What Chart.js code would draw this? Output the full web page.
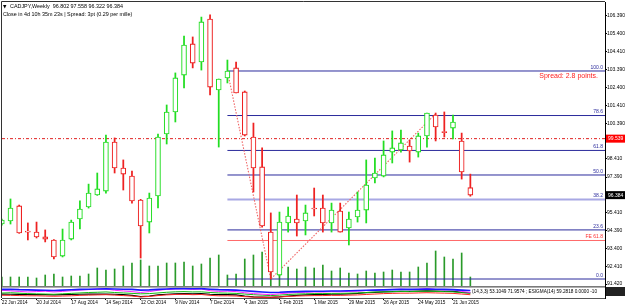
<!DOCTYPE html>
<html><head><meta charset="utf-8">
<script src="https://cdn.jsdelivr.net/npm/chart.js@4/dist/chart.umd.min.js"></script>
<style>html,body{margin:0;padding:0;background:#fff;}canvas{display:block}</style>
</head><body>
<canvas id="c" width="625" height="307"></canvas>
<script>
// ---------- data ----------
const symbol = 'CADJPY,Weekly';
const infoLine = 'Close in 4d 10h 35m 23s | Spread: 3pt (0.29 per mille)';
const spreadText = 'Spread: 2.8 points.';
const tickIdx = [0,4,8,12,16,20,24,28,32,36,40,44,48,52];
const tickDates = ['22 Jun 2014','20 Jul 2014','17 Aug 2014','14 Sep 2014','12 Oct 2014','9 Nov 2014','7 Dec 2014','4 Jan 2015','1 Feb 2015','1 Mar 2015','29 Mar 2015','26 Apr 2015','24 May 2015','21 Jun 2015'];
const priceTicks = [106.390,105.400,104.410,103.390,102.400,101.410,100.390,98.410,97.390,95.410,94.390,93.400,92.410,91.420];

const opens  = [94.77,94.94,95.78,94.38,94.32,94.05,93.88,92.98,93.93,95.05,95.72,96.39,96.61,99.35,97.90,97.45,96.11,94.88,96.34,99.80,101.03,103.09,104.83,103.82,106.22,102.26,102.93,103.49,102.15,99.63,97.96,94.32,91.92,94.83,95.05,94.94,95.66,95.66,94.83,95.50,94.55,95.16,95.55,97.34,97.45,98.79,98.91,99.13,98.79,99.69,100.86,99.94,100.13,99.41,96.802];
const highs  = [95.05,96.17,95.83,94.83,94.88,94.44,93.90,94.49,94.99,96.06,97.00,97.62,99.74,99.58,98.35,97.73,96.15,96.50,99.80,101.42,103.21,105.27,105.22,106.33,106.45,102.87,103.93,103.82,102.20,100.41,99.02,95.39,95.44,95.72,96.39,95.83,96.78,96.39,95.94,95.94,95.44,96.56,98.35,98.46,99.41,99.97,100.02,99.46,99.85,100.97,100.97,101.03,100.86,99.85,97.558];
const lows   = [94.71,94.77,94.25,93.88,93.99,93.77,92.82,92.93,93.88,94.49,95.66,96.37,96.50,97.62,96.67,95.94,92.87,94.27,95.67,99.24,100.47,102.37,103.49,103.37,101.98,99.07,102.65,102.09,99.69,96.56,94.60,91.70,91.87,94.32,94.10,94.16,95.22,94.32,94.32,94.32,93.60,94.88,94.83,97.06,97.40,98.18,98.79,98.23,98.51,99.07,99.41,99.63,99.52,97.28,96.322];
const closes = [94.99,95.66,94.27,94.32,94.05,93.93,92.93,93.88,94.88,95.61,96.50,96.73,99.35,97.90,97.56,96.06,94.66,96.22,99.63,101.03,102.93,104.77,103.76,106.06,102.42,102.87,103.32,102.09,99.74,97.90,94.66,92.09,94.88,95.22,94.83,95.39,95.61,94.83,95.55,94.32,95.05,95.55,96.95,97.62,98.63,99.02,99.30,98.85,99.69,100.97,100.19,99.88,100.47,97.68,96.384];
const volumes = [9,9,9,9,8,11,12,9,10,10,12,18,16,17,20,23,26,20,20,23,23,24,20,22,28,31,11,12,27,31,34,26,23,19,17,19,18,21,15,18,13,12,15,13,14,16,14,14,19,23,35,29,27,33,9];

const fibNames  = ['100.0','78.6','61.8','50.0','38.2','23.6','0.0'];
const fibPrices = [103.318,100.831,98.880,97.509,96.137,94.441,91.699];
const feName = 'FE 61.8', fePrice = 93.850;
const fibStart = 26;
const hLinePrice = 99.539;
const swingIdx = [26,31,50];
const swingPrice = [103.318,91.699,100.930];

const indBlue    = [78,80,76,74,72,70,68,72,75,78,80,82,84,82,80,78,72,74,78,82,85,86,84,85,80,76,74,72,66,60,55,50,52,56,58,60,62,62,64,64,66,68,70,72,74,76,78,78,80,82,80,78,76,72,68];
const indMagenta = [70,65,60,55,58,62,55,60,66,72,76,80,82,70,64,58,50,58,70,78,82,84,78,82,66,60,62,58,48,40,35,30,38,45,50,52,55,54,58,56,60,62,68,72,75,78,80,76,80,84,78,74,76,60,50];
const indGreen   = [45,48,44,40,38,36,34,38,42,46,50,52,55,50,46,42,38,40,46,52,56,58,55,56,50,46,44,42,36,30,26,22,26,32,36,38,40,40,42,42,44,46,50,54,56,58,60,58,60,62,60,58,56,50,44];
const indBlack   = [35,34,33,32,31,30,28,30,32,34,35,36,36,34,30,24,12,18,28,34,38,40,38,40,34,30,30,28,18,10,8,6,10,18,24,28,30,32,34,34,38,42,48,52,56,58,60,60,62,64,62,60,60,52,46];
const indRed     = [25,24,22,20,20,18,16,18,20,24,26,28,30,26,22,18,10,14,22,28,32,34,30,32,24,20,20,18,12,8,6,6,10,14,18,20,22,22,24,24,26,28,32,36,40,42,44,44,46,48,46,44,42,36,30];
const stripText = '(14,3,3) 53.1049 71.9574 ; ESIGMA(14) 59.2818 0.0000 -10';

// ---------- view ----------
const X_MIN = 0.02, X_MAX = 69.52;
const GREEN = '#22dd22', RED = '#ee2222', NAVY = '#2b2b9c';
const idx = opens.map((_, i) => i);
const candleColor = idx.map(i => closes[i] >= opens[i] ? GREEN : RED);
Chart.defaults.font.family = 'Liberation Sans';

function hline(p, color, width, dash, from) {
  return {type:'line', data:[{x:from, y:p},{x:X_MAX, y:p}], borderColor:color, borderWidth:width,
    borderDash:dash||[], pointRadius:0, fill:false, order:8, yAxisID:'y'};
}
function indLine(arr, color, w) {
  return {type:'line', data: arr.map((v,i)=>({x:i,y:v})), borderColor:color, borderWidth:w,
    pointRadius:0, fill:false, order:9, yAxisID:'yInd', tension:0};
}

const datasets = [
  {type:'bar', data: idx.map(i=>({x:i, y:volumes[i]})), backgroundColor:'#2a9a2a', barThickness:1, grouped:false, order:10, yAxisID:'yVol'},
  indLine(indBlue,'#1a1aff',1.6), indLine(indMagenta,'#ff22ff',1), indLine(indGreen,'#11bb11',1), indLine(indRed,'#ff2222',1), indLine(indBlack,'#000000',1.2),
];
fibNames.forEach((n,k)=>{
  datasets.push(n==='38.2' ? hline(fibPrices[k], '#a8a8e4', 2, null, fibStart) : hline(fibPrices[k], NAVY, 1, null, fibStart));
});
datasets.push(hline(fePrice, '#ff6a6a', 1, null, fibStart));
datasets.push(Object.assign(hline(hLinePrice, '#e02020', 1, [3,2,1,2], X_MIN), {order:7}));
datasets.push({type:'line', data: swingIdx.map((v,k)=>({x:v, y:swingPrice[k]})), borderColor:'#f06464', borderWidth:1.1, borderDash:[1.5,1.5], pointRadius:0, fill:false, order:7, yAxisID:'y'});
datasets.push({type:'bar', data: idx.map(i=>({x:i, y:[lows[i], highs[i]]})), backgroundColor: candleColor, barThickness:1.1, grouped:false, order:2, yAxisID:'y'});
datasets.push({type:'bar', data: idx.map(i=>({x:i, y:[opens[i], closes[i]]})), backgroundColor:'#ffffff', borderColor: candleColor, borderWidth:1.1, borderSkipped:false, barThickness:5, grouped:false, order:1, yAxisID:'y'});

const overlay = {
  id:'overlay',
  afterDraw(chart) {
    const {ctx, chartArea:a, scales:{y, yVol}} = chart;
    ctx.save();
    ctx.strokeStyle = '#333'; ctx.lineWidth = 1;
    ctx.beginPath();
    ctx.moveTo(a.left-0.5, a.top-0.5); ctx.lineTo(a.right, a.top-0.5);
    ctx.moveTo(a.left-0.5, a.top-0.5); ctx.lineTo(a.left-0.5, a.bottom);
    ctx.stroke();
    const sy = yVol.getPixelForValue(0);
    ctx.fillStyle = '#7a7a7a'; ctx.fillRect(a.left, sy, a.right-a.left, 1.6);
    ctx.fillStyle = '#000'; ctx.textBaseline = 'alphabetic'; ctx.textAlign = 'left';
    ctx.font = '4.5px "DejaVu Sans"'; ctx.fillText('▼', 3, 7.5);
    ctx.font = '5.4px "Liberation Sans"';
    const n = closes.length-1;
    ctx.fillText(symbol + '  ' + opens[n].toFixed(3) + ' ' + highs[n].toFixed(3) + ' ' + lows[n].toFixed(3) + ' ' + closes[n].toFixed(3), 10, 7.6);
    ctx.fillText(infoLine, 3, 15.6);
    ctx.textAlign = 'right'; ctx.textBaseline = 'bottom'; ctx.font = '5px "Liberation Sans"';
    fibNames.forEach((nm,k)=>{ ctx.fillStyle = NAVY; ctx.fillText(nm, a.right-2, y.getPixelForValue(fibPrices[k]) - 1); });
    ctx.fillStyle = '#ff3030'; ctx.fillText(feName, a.right-2, y.getPixelForValue(fePrice) - 1);
    ctx.font = '7px "Liberation Sans"'; ctx.fillStyle = '#ff2020'; ctx.textBaseline = 'middle';
    ctx.fillText(spreadText, 598, 76);
    ctx.textAlign = 'left'; ctx.font = '4.7px "Liberation Sans"'; ctx.fillStyle = '#000';
    ctx.fillText(stripText, 472, sy + 6);
    function box(p, bg) {
      const py = y.getPixelForValue(p);
      ctx.fillStyle = bg; ctx.fillRect(a.right+1, py-4, 25, 8);
      ctx.fillStyle = '#fff'; ctx.font = '5px "Liberation Sans"'; ctx.textAlign='left'; ctx.textBaseline='middle';
      ctx.fillText(p.toFixed(3), a.right+3, py+0.3);
    }
    box(hLinePrice, '#ff0000');
    box(closes[n], '#000000');
    ctx.fillStyle = '#222'; ctx.fillRect(a.right+1, sy+1, 20, 9);
    ctx.restore();
  }
};

new Chart(document.getElementById('c'), {
  type:'bar',
  data:{datasets},
  options:{
    responsive:false, animation:false, devicePixelRatio:1,
    layout:{padding:{left:2, top:2, right:0, bottom:0}},
    plugins:{legend:{display:false}, tooltip:{enabled:false}, title:{display:false}},
    scales:{
      x:{type:'linear', min:X_MIN, max:X_MAX, offset:false, position:'bottom',
        afterBuildTicks: s => { s.ticks = tickIdx.map(v=>({value:v})); },
        afterFit: s => { s.height = 9; s.paddingLeft = 0; s.paddingRight = 0; },
        ticks:{autoSkip:false, maxRotation:0, minRotation:0, align:'start', padding:0, color:'#000',
          font:{size:4.7}, callback: v => { const k = tickIdx.indexOf(v); return k>=0 ? tickDates[k] : ''; }},
        grid:{offset:false, drawOnChartArea:false, drawTicks:true, tickLength:2, color:'#000'},
        border:{display:true, color:'#555'}},
      y:{type:'linear', position:'right', min:90.638, max:107.172,
        afterBuildTicks: s => { s.ticks = priceTicks.map(v=>({value:v})); },
        afterFit: s => { s.width = 20; s.paddingTop = 0; s.paddingBottom = 0; },
        ticks:{padding:0, color:'#000', font:{size:5}, callback: v => Number(v).toFixed(3)},
        grid:{drawOnChartArea:false, drawTicks:true, tickLength:2, color:'#000'},
        border:{display:true, color:'#000'}},
      yVol:{type:'linear', display:false, min:-12, max:284},
      yInd:{type:'linear', display:false, min:0, max:2691}
    }
  },
  plugins:[overlay]
});
</script>
</body></html>
